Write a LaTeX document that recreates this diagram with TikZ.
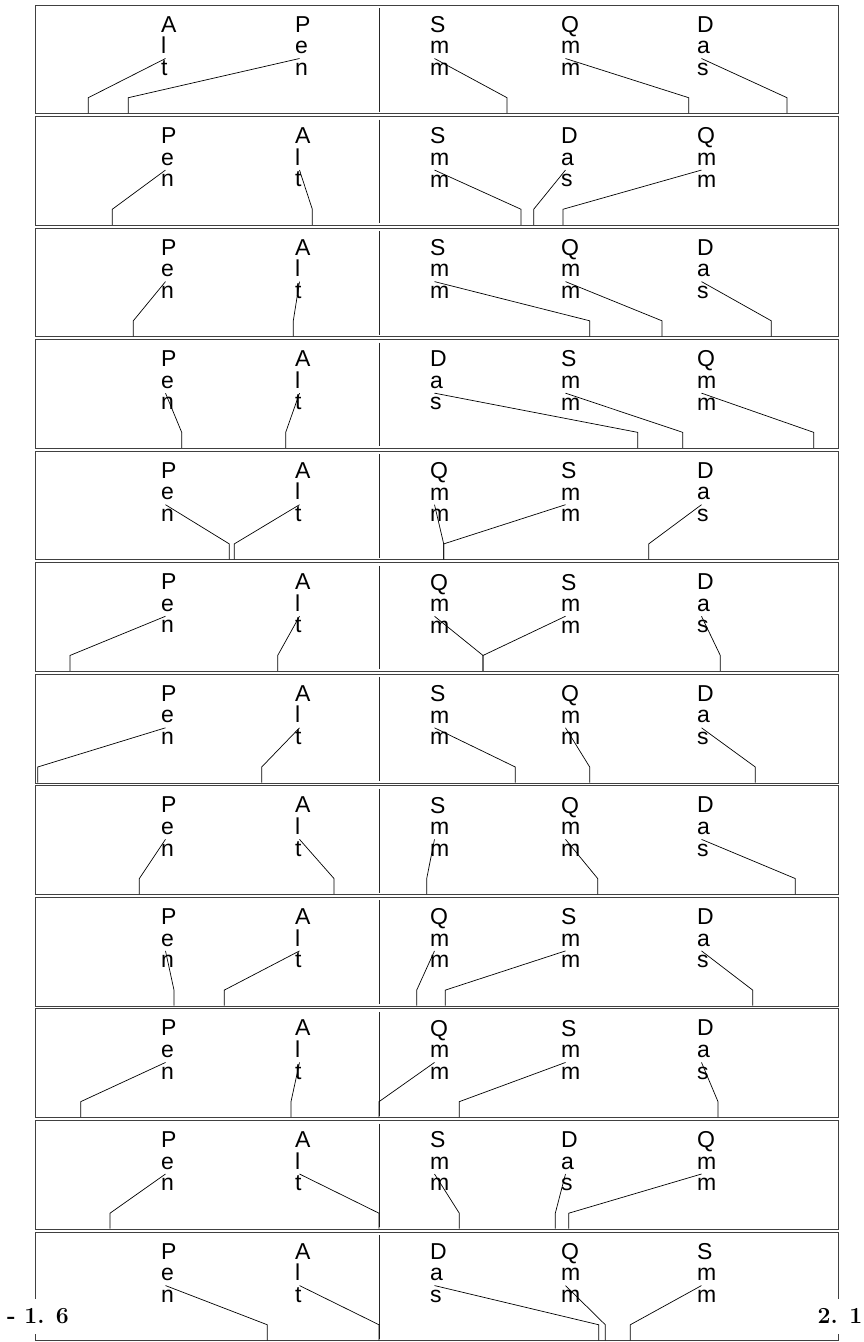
\documentclass[tikz,border=0pt]{standalone}
\usepackage{fontspec}
\usepackage{tikz}
\newfontfamily\wordfamily{Liberation Sans}
\newcommand{\wordfont}{\wordfamily\fontsize{23}{21.6}\selectfont}
\newcommand{\limitfont}{\fontsize{23}{23}\selectfont\bfseries}

\begin{document}
\begin{tikzpicture}[
		x=1pt, y=-1pt,
		panel/.style={draw=black!75, line width=1pt},
		divider/.style={draw=black!85, line width=0.8pt},
		word/.style={anchor=north west, inner sep=0pt, align=left, font=\wordfont},
		leader/.style={draw=black, line width=0.7pt},
		limit/.style={fill=white, inner sep=3pt, minimum height=35pt, font=\limitfont}
		]
		\useasboundingbox (0,0) rectangle (864,1342);

		% one panel per row: stacked word and the x where its leader meets the axis
		\foreach \k/\row in {
			1/{A\\l\\t/88.3, P\\e\\n/128.3, S\\m\\m/507, Q\\m\\m/688.7, D\\a\\s/787},
			2/{P\\e\\n/112.3, A\\l\\t/312.3, S\\m\\m/521, D\\a\\s/533.7, Q\\m\\m/563},
			3/{P\\e\\n/133.3, A\\l\\t/293.3, S\\m\\m/589.7, Q\\m\\m/662, D\\a\\s/771.3},
			4/{P\\e\\n/181.7, A\\l\\t/285.7, D\\a\\s/637.7, S\\m\\m/682.7, Q\\m\\m/813.7},
			5/{P\\e\\n/229.3, A\\l\\t/234.3, Q\\m\\m/443.7, S\\m\\m/443.7, D\\a\\s/648.7},
			6/{P\\e\\n/70, A\\l\\t/277.7, Q\\m\\m/483, S\\m\\m/483, D\\a\\s/720.3},
			7/{P\\e\\n/37.7, A\\l\\t/261.7, S\\m\\m/515.3, Q\\m\\m/589.7, D\\a\\s/755.3},
			8/{P\\e\\n/139.3, A\\l\\t/334, S\\m\\m/426.7, Q\\m\\m/597.7, D\\a\\s/795.3},
			9/{P\\e\\n/174, A\\l\\t/224.3, Q\\m\\m/416.7, S\\m\\m/445.3, D\\a\\s/752.7},
			10/{P\\e\\n/80.7, A\\l\\t/291, Q\\m\\m/379, S\\m\\m/459.3, D\\a\\s/718},
			11/{P\\e\\n/110, A\\l\\t/379, S\\m\\m/459.3, D\\a\\s/555.3, Q\\m\\m/568.7},
			12/{P\\e\\n/267.3, A\\l\\t/379, D\\a\\s/598.7, Q\\m\\m/605.3, S\\m\\m/630.3}%
		}{
			\pgfmathsetmacro{\ptop}{5+111.55*(\k-1)}
			\pgfmathsetmacro{\pbot}{\ptop+108.7}
			\draw[panel] (35,\ptop) rectangle (838,\pbot);
			\draw[divider] (379,\ptop+3) -- (379,\pbot-2);
			\foreach \txt/\ex [count=\j] in \row {
				\pgfmathsetmacro{\cx}{{161,295,430,561,697}[\j-1]}
				\node[word] (w\k-\j) at (\cx,\ptop+11) {\txt};
				\coordinate (t\k-\j) at (\ex,\pbot-0.5);
				\draw[leader] ([shift={(4.5,42.5)}]w\k-\j.north west) -- ([yshift=15.5pt]t\k-\j) -- (t\k-\j);
			}
		}

		\node[limit] (lo) at (38,1316) {- 1. 6};
		\node[limit] (hi) at (840,1316) {2. 1};
	\end{tikzpicture}
\end{document}
